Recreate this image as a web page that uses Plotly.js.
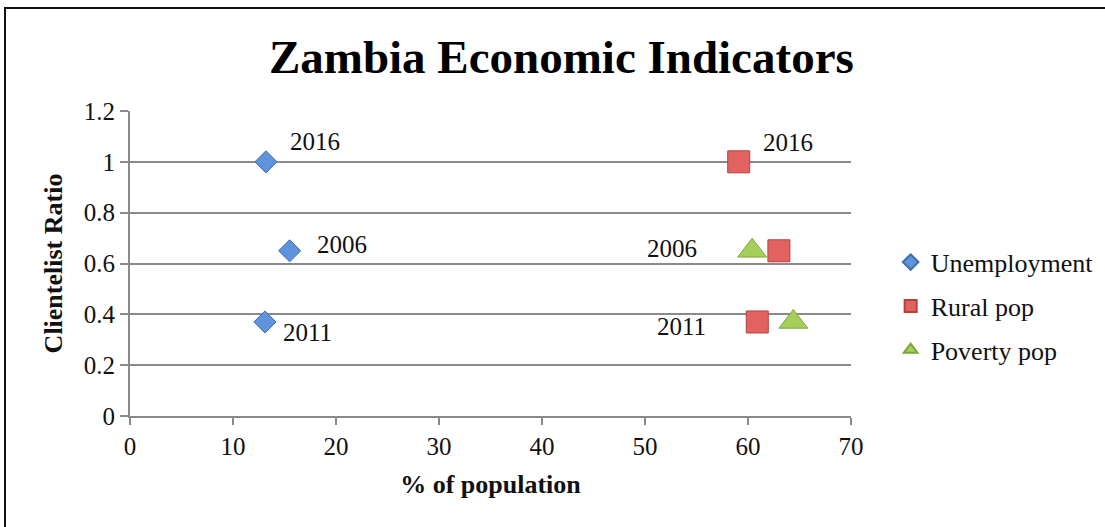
<!DOCTYPE html>
<html>
<head>
<meta charset="utf-8">
<script src="https://cdn.plot.ly/plotly-3.0.1.min.js"></script>
<style>
  html, body { margin: 0; padding: 0; background: #fff; overflow: hidden; }
  #frame { position: absolute; left: 4px; top: 7px; width: 1110px; height: 560px; border: 2.5px solid #111; box-sizing: border-box; pointer-events: none; z-index: 10; }
  #chart { width: 1105px; height: 527px; }
</style>
</head>
<body>
<div id="frame"></div>
<div id="chart"></div>
<script>
// ---- data ----
const seriesNames = ['Unemployment', 'Rural pop', 'Poverty pop'];
const years = ['2016', '2006', '2011'];
const unemploymentX = [13.2, 15.5, 13.1];
const unemploymentY = [1.0, 0.65, 0.37];
const ruralX = [59.1, 63.0, 60.9];
const ruralY = [1.0, 0.65, 0.37];
const povertyYears = ['2006', '2011'];
const povertyX = [60.4, 64.4];
const povertyY = [0.65, 0.37];
const yTickVals = [0, 0.2, 0.4, 0.6, 0.8, 1, 1.2];
const yTickText = ['0', '0.2', '0.4', '0.6', '0.8', '1', '1.2'];
const xTickVals = [0, 10, 20, 30, 40, 50, 60, 70];

// ---- styles ----
const serif = '"Liberation Serif", "DejaVu Serif", serif';
const axisGray = '#8a8a8a';

const traces = [
  { name: seriesNames[0], x: unemploymentX, y: unemploymentY, legendgroup: 'a',
    marker: { symbol: 'diamond', size: 17, color: '#5f93db', line: { color: '#3d6db0', width: 1 } } },
  { name: seriesNames[1], x: ruralX, y: ruralY, legendgroup: 'b',
    marker: { symbol: 'square', size: 22, color: '#e2625f', line: { color: '#b4413d', width: 1 } } },
  { name: seriesNames[2], x: povertyX, y: povertyY, legendgroup: 'c',
    marker: { symbol: 'triangle-up', size: 25, color: '#a5cf5b', line: { color: '#7da53a', width: 1 } } }
].map(t => Object.assign({ type: 'scatter', mode: 'markers', cliponaxis: false, hoverinfo: 'skip' }, t));

// label placement (pixel offsets) per point
const labelSpecs = [
  { xs: unemploymentX, ys: unemploymentY, texts: years, idx: [0, 1, 2], shifts: [[49, 20], [52, 6], [43, -11]] },
  { xs: ruralX, ys: ruralY, texts: years, idx: [0, 2], shifts: [[49, 19], [-76, -5]] },
  { xs: povertyX, ys: povertyY, texts: povertyYears, idx: [0], shifts: [[-80, 2]] }
];
const annotations = [];
labelSpecs.forEach(s => {
  s.idx.forEach((i, k) => {
    annotations.push({ x: s.xs[i], y: s.ys[i], xref: 'x', yref: 'y', text: s.texts[i], showarrow: false,
      xshift: s.shifts[k][0], yshift: s.shifts[k][1], font: { family: serif, size: 25, color: '#111' } });
  });
});

const layout = {
  width: 1105, height: 527,
  margin: { l: 130, r: 254, t: 111, b: 111, autoexpand: false },
  paper_bgcolor: '#fff', plot_bgcolor: '#fff',
  font: { family: serif, size: 25, color: '#111' },
  title: { text: '<b>Zambia Economic Indicators</b>', x: 0.508, xref: 'container', xanchor: 'center',
    y: 0.892, yref: 'container', yanchor: 'middle', font: { family: serif, size: 47, color: '#000' } },
  xaxis: { range: [0, 70], tickvals: xTickVals, showgrid: false, zeroline: false,
    showline: true, linecolor: axisGray, linewidth: 2, ticks: 'outside', ticklen: 7, tickcolor: axisGray, tickwidth: 2,
    tickfont: { family: serif, size: 25 },
    title: { text: '<b>% of population</b>', standoff: 16, font: { family: serif, size: 26 } } },
  yaxis: { range: [0, 1.2], tickvals: yTickVals, ticktext: yTickText, showgrid: true, gridcolor: axisGray, gridwidth: 2,
    zeroline: false, showline: true, linecolor: axisGray, linewidth: 2, ticks: 'outside', ticklen: 8, tickcolor: axisGray, tickwidth: 2,
    tickfont: { family: serif, size: 25 },
    title: { text: '<b>Clientelist Ratio</b>', standoff: 14, font: { family: serif, size: 26 } } },
  legend: { x: 1.055, xanchor: 'left', y: 0.36, yanchor: 'middle', traceorder: 'grouped', tracegroupgap: 7,
    itemsizing: 'constant', font: { family: serif, size: 26, color: '#111' }, itemwidth: 30 },
  showlegend: true,
  annotations: annotations
};

Plotly.newPlot('chart', traces, layout, { staticPlot: true });
</script>
</body>
</html>
